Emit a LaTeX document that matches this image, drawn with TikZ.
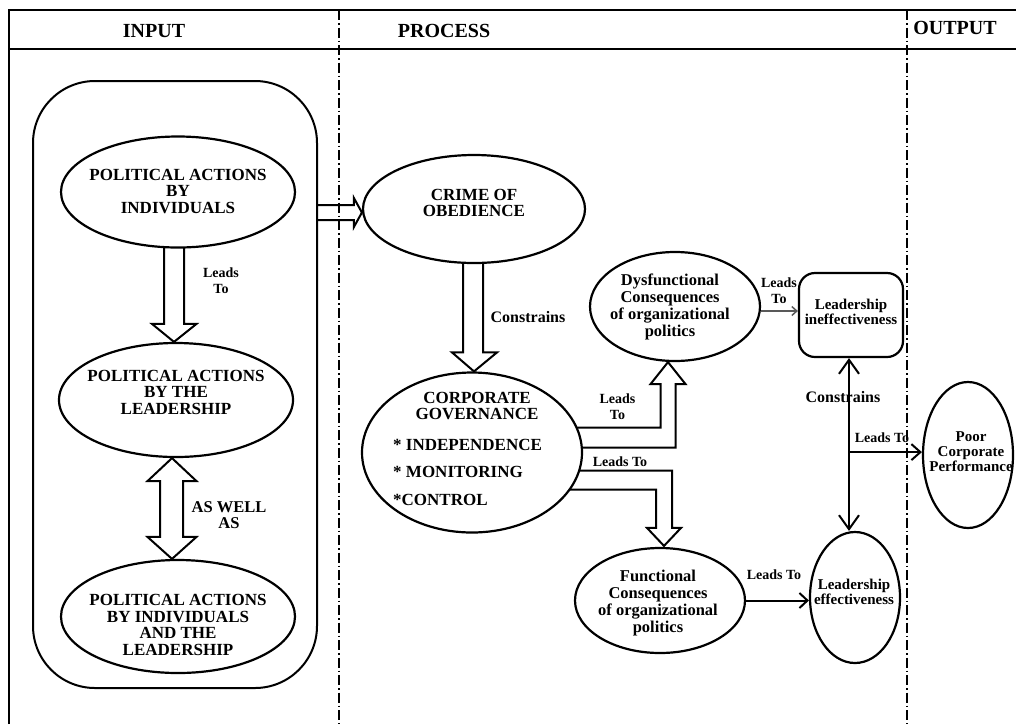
\documentclass[tikz,border=0pt]{standalone}
\usepackage{fontspec}
\setmainfont{Liberation Serif}
\usetikzlibrary{arrows.meta,calc,shapes.geometric}
\pgfdeclarelayer{bg}
\pgfsetlayers{bg,main}
\begin{document}
\begin{tikzpicture}[x=1pt,y=-1pt,
  oval/.style={ellipse, draw, line width=2.2pt, fill=white, inner sep=0pt},
  capsT/.style={font=\bfseries\fontsize{17}{16.5}\selectfont, align=center, inner sep=0pt},
  listT/.style={font=\bfseries\fontsize{17}{27.5}\selectfont, align=left, inner sep=0pt},
  lowT/.style={font=\bfseries\fontsize{16.5}{17}\selectfont, align=center, inner sep=0pt},
  smallT/.style={font=\bfseries\fontsize{15}{15}\selectfont, align=center, inner sep=0pt},
  lbl/.style={font=\bfseries\fontsize{14}{16}\selectfont, align=center, inner sep=0pt},
  conT/.style={font=\bfseries\fontsize{16}{16}\selectfont, inner sep=0pt},
  headT/.style={font=\bfseries\fontsize{20}{20}\selectfont, inner sep=0pt},
  blk/.style={line width=2pt, line join=miter},
  lto/.style={line width=2pt, -{Straight Barb[length=9pt,width=16pt,line width=2pt]}},
  cons/.style={line width=2pt, {Straight Barb[length=14pt,width=20pt,line width=2pt]}-{Straight Barb[length=14pt,width=20pt,line width=2pt]}},
  divider/.style={line width=1.3pt, dash pattern=on 10pt off 3pt on 1.5pt off 3pt},
]
\useasboundingbox (0,0) rectangle (1016,724);

% frame and header row
\draw[line width=2pt] (9,724) -- (9,10) -- (1016,10);
\draw[line width=2.6pt] (9,49) -- (1016,49);
\draw[divider] (339,10) -- (339,724);
\draw[divider] (907,10) -- (907,724);
\node[headT] (hin) at (154,31) {INPUT};
\node[headT] (hpr) at (444,31) {PROCESS};
\node[headT] (hout) at (955,28) {OUTPUT};

% input column
\node[draw, line width=2pt, rounded corners=62pt, minimum width=284pt, minimum height=607pt, inner sep=0pt] (ir) at (175,384.5) {};
\node[oval, minimum width=234pt, minimum height=111pt] (e1) at (178,192) {};
\node[capsT] (e1t) at (178,191) {POLITICAL ACTIONS\\BY\\INDIVIDUALS};
\node[oval, minimum width=234pt, minimum height=114pt] (e2) at (176,400) {};
\node[capsT] (e2t) at (176,392) {POLITICAL ACTIONS\\BY THE\\LEADERSHIP};
\node[oval, minimum width=234pt, minimum height=113pt] (e3) at (178,616.5) {};
\node[capsT] (e3t) at (178,625) {POLITICAL ACTIONS\\BY INDIVIDUALS\\AND THE\\LEADERSHIP};

% process column
\node[oval, minimum width=222pt, minimum height=108pt] (crime) at (474,209) {};
\node[capsT] (crimet) at (474,203) {CRIME OF\\OBEDIENCE};
\node[oval, minimum width=220pt, minimum height=160pt] (cg) at (472,452.5) {};
\node[capsT] (cgt) at (477,406) {CORPORATE\\GOVERNANCE};
\node[listT, anchor=west] (cgl) at (393,472) {* INDEPENDENCE\\* MONITORING\\*CONTROL};
\node[oval, minimum width=170pt, minimum height=109pt] (dys) at (675,306.5) {};
\node[lowT] (dyst) at (670,307) {Dysfunctional\\Consequences\\of organizational\\politics};
\node[oval, minimum width=170pt, minimum height=105pt] (func) at (660,600.5) {};
\node[lowT] (funct) at (658,603) {Functional\\Consequences\\of organizational\\politics};
\node[draw, line width=2.2pt, rounded corners=16pt, fill=white, minimum width=104pt, minimum height=84pt, inner sep=0pt] (ineff) at (851,315) {};
\node[smallT] (innefft) at (851,312) {Leadership\\ineffectiveness};
\node[oval, minimum width=90pt, minimum height=131pt] (eff) at (855,597.5) {};
\node[smallT] (efft) at (854,592) {Leadership\\effectiveness};

% output column
\node[oval, minimum width=90pt, minimum height=146pt] (poor) at (968,455) {};
\node[smallT] (poort) at (971,452) {Poor\\Corporate\\Performance};

% connector labels
\node[lbl] (l1) at (221,281) {Leads\\To};
\node[capsT, font=\bfseries\fontsize{16.5}{16}\selectfont] (l2) at (229,515) {AS WELL\\AS};
\node[conT] (l3) at (528,317) {Constrains};
\node[lbl] (l4) at (617.5,407) {Leads\\To};
\node[lbl] (l5) at (620,462) {Leads To};
\node[lbl] (l6) at (779,291) {Leads\\To};
\node[conT] (l7) at (843,397) {Constrains};
\node[lbl] (l8) at (882,438) {Leads To};
\node[lbl] (l9) at (774,575) {Leads To};

\coordinate (irc) at (ir.east |- crime.west);
\coordinate (cx) at ($(ineff.south)+(-2,0)$);
\coordinate (jn) at ($(ineff.south)+(-2,94)$);

\begin{pgfonlayer}{bg}
  % hollow block arrows
  \draw[blk] ($(e1.south)+(-14,-5)$) |- ($(e2.north)+(-24,-18)$) -- ($(e2.north)+(-2,0)$)
     -- ($(e2.north)+(20.5,-18)$) -| ($(e1.south)+(6,-5)$);
  \draw[blk] ($(e2.south)+(-4,0)$) -- ($(e2.south)+(20.5,23)$) -- ($(e2.south)+(7,23)$)
     -- ($(e3.north)+(5,-22)$) -- ($(e3.north)+(18.5,-22)$) -- ($(e3.north)+(-6,0)$)
     -- ($(e3.north)+(-30.5,-22)$) -- ($(e3.north)+(-18,-22)$) -- ($(e2.south)+(-16,23)$)
     -- ($(e2.south)+(-28.5,23)$) -- cycle;
  \draw[blk] ($(irc)+(0,-4)$) -- ($(crime.west)+(-8,-4)$) -- ($(crime.west)+(-8,-11)$)
     -- ($(crime.west)+(0,3.5)$) -- ($(crime.west)+(-8,18)$) -- ($(crime.west)+(-8,11)$)
     -- ($(irc)+(0,11)$);
  \draw[blk] ($(crime.south)+(-11,-5)$) |- ($(cg.north)+(-20,-19)$) -- ($(cg.north)+(2,0)$)
     -- ($(cg.north)+(25,-19)$) -| ($(crime.south)+(9,-5)$);
  \draw[blk] ($(cg.center)+(93,-25)$) -| ($(dys.south)+(-14.5,22)$) -- ($(dys.south)+(-24.5,22)$)
     -- ($(dys.south)+(-7,0)$) -- ($(dys.south)+(10.5,22)$) -- ($(dys.south)+(0.5,22)$)
     |- ($(cg.center)+(93,-5)$);
  \draw[blk] ($(cg.center)+(93,18)$) -| ($(func.north)+(12,-19)$) -- ($(func.north)+(21,-19)$)
     -- ($(func.north)+(4,-1)$) -- ($(func.north)+(-13,-19)$) -- ($(func.north)+(-4,-19)$)
     |- ($(cg.center)+(93,37)$);
  % line arrows
  \draw[line width=1.5pt, draw=black!65, -{Straight Barb[length=5pt,width=9pt,line width=1.5pt]}]
     ($(dys.east)+(0,4.5)$) -- ($(dys.east -| ineff.west)+(0,4.5)$);
  \draw[cons] (cx) -- (cx |- eff.north);
  \draw[lto] (jn) -- (jn -| poor.west);
  \draw[lto, -{Straight Barb[length=8pt,width=15pt,line width=2pt]}] (func.east) -- (func.east -| eff.west);
\end{pgfonlayer}
\end{tikzpicture}
\end{document}
